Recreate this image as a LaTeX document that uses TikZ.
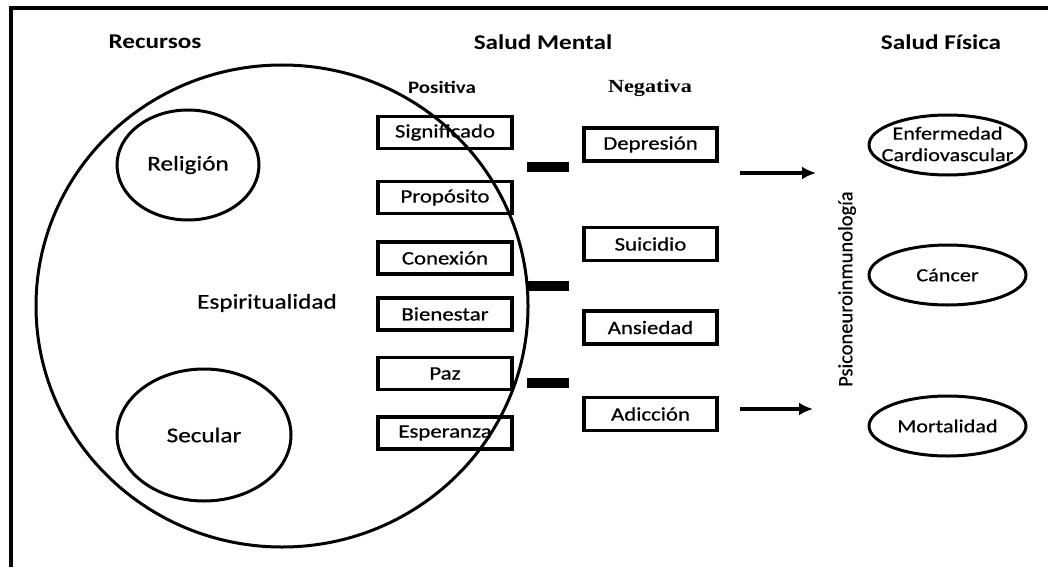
\documentclass[tikz,border=0pt]{standalone}
\usepackage{fontspec}
\setmainfont{Carlito}[FakeStretch=1.2, UprightFeatures={FakeBold=0.6}]
\newfontfamily\serifbold{Liberation Serif}[FakeStretch=1.2]
\newfontfamily\plainfont{Carlito}[FakeBold=0.4]
\usetikzlibrary{shapes.geometric,arrows.meta}
\begin{document}
\begin{tikzpicture}[x=1pt,y=-1pt,
  head/.style={font=\fontsize{21}{25}\selectfont\bfseries, inner sep=0pt},
  sub/.style={font=\fontsize{17.5}{21}\selectfont\bfseries, inner sep=0pt},
  itembox/.style={draw, line width=3.6pt, minimum width=134pt, minimum height=32pt, inner sep=0pt, font=\fontsize{19}{22}\selectfont},
  circtext/.style={font=\fontsize{21}{25}\selectfont, inner sep=0pt},
  outcome/.style={draw, ellipse, line width=3pt, minimum width=157pt, minimum height=60pt, inner sep=0pt},
  outtext/.style={font=\fontsize{18.5}{21.5}\selectfont, align=center, inner sep=0pt},
  bar/.style={line width=9.5pt},
  arr/.style={line width=3.5pt, -{Latex[length=14pt,width=13pt]}}
]
\useasboundingbox (0,0) rectangle (1048,567);
% frame
\coordinate (ftl) at (11,8);
\coordinate (ftr) at (1048,8);
\coordinate (fbl) at (11,567);
\draw[line width=3.5pt] (fbl) -- (ftl) -- (ftr);

% headings
\node[head] (recursos) at (155,42) {Recursos};
\node[head] (mental) at (543,42) {Salud Mental};
\node[head] (fisica) at (941,42) {Salud Física};
\node[sub] (positiva) at (442,87) {Positiva};
\node[font=\fontsize{18.5}{22}\selectfont\serifbold\bfseries, inner sep=0pt] (negativa) at (650,88) {Negativa};

% spirituality ellipse
\node[draw, ellipse, line width=3pt, minimum width=492pt, minimum height=482pt, inner sep=0pt] (espcirc) at (282,306) {};
\node[circtext] (esp) at (267,303) {Espiritualidad};
\node[draw, ellipse, line width=3pt, minimum width=142pt, minimum height=110pt, inner sep=0pt] (religion) at (188,165) {};
\node[circtext] at (religion) {Religión};
\node[draw, ellipse, line width=3pt, minimum width=174pt, minimum height=132pt, inner sep=0pt] (secular) at (204,435) {};
\node[circtext] at (secular) {Secular};

% positive boxes
\node[itembox] (sig) at (445,132.5) {Significado};
\node[itembox] (prop) at (445,197.5) {Propósito};
\node[itembox] (con) at (445,258) {Conexión};
\node[itembox] (bien) at (445,314) {Bienestar};
\node[itembox] (paz) at (445,373.5) {Paz};
\node[itembox] (esper) at (445,433) {Esperanza};

% negative boxes
\node[itembox, minimum width=133pt, minimum height=33pt] (dep) at (650.5,144.5) {Depresión};
\node[itembox, minimum width=133pt, minimum height=33pt] (sui) at (650.5,244) {Suicidio};
\node[itembox, minimum width=133pt, minimum height=33pt] (ans) at (650.5,327.5) {Ansiedad};
\node[itembox, minimum width=133pt, minimum height=33pt] (adi) at (650.5,414) {Adicción};

% bars
\coordinate (b1a) at (527,167); \coordinate (b1b) at (569,167);
\coordinate (b2a) at (527,286); \coordinate (b2b) at (569,286);
\coordinate (b3a) at (527,383); \coordinate (b3b) at (569,383);
\draw[bar] (b1a) -- (b1b);
\draw[bar] (b2a) -- (b2b);
\draw[bar] (b3a) -- (b3b);

% arrows
\coordinate (a1s) at (740,173); \coordinate (a1e) at (816,173);
\coordinate (a2s) at (740,409); \coordinate (a2e) at (813,409);
\draw[arr] (a1s) -- (a1e);
\draw[arr] (a2s) -- (a2e);

% psychoneuroimmunology
\node[rotate=90, font=\fontsize{20.5}{24}\selectfont\plainfont, inner sep=0pt] (pni) at (847,289) {Psiconeuroinmunología};

% outcomes
\node[outcome] (cardio) at (947.5,145) {};
\node[outtext] at (947.5,144) {Enfermedad\\Cardiovascular};
\node[outcome] (cancer) at (947.5,275) {};
\node[outtext] at (cancer) {Cáncer};
\node[outcome] (mort) at (947.5,426) {};
\node[outtext] at (mort) {Mortalidad};
\end{tikzpicture}
\end{document}
